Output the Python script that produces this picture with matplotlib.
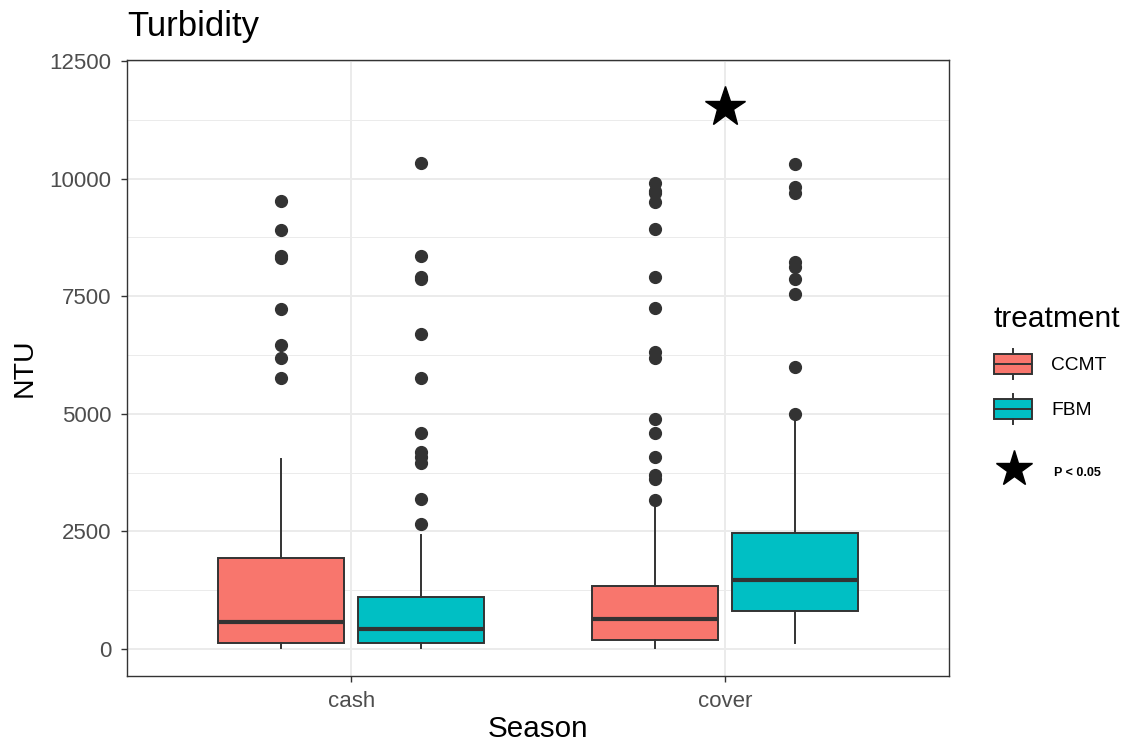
import matplotlib
matplotlib.use("Agg")
import matplotlib.pyplot as plt
from matplotlib.legend_handler import HandlerBase
from matplotlib.patches import Rectangle, Patch
from matplotlib.lines import Line2D
from matplotlib.ticker import MultipleLocator

plt.rcParams['font.family'] = ['Liberation Sans', 'DejaVu Sans']

# dane (kolejność: cash-CCMT, cash-FBM, cover-CCMT, cover-FBM)
seasons = ["cash", "cover"]
treatments = ["CCMT", "FBM"]
colors = ["#F8766D", "#00BFC4"]

whislo = [30, 30, 30, 134]
q1 = [134, 134, 191, 808]
med = [574, 432, 645, 1467]
q3 = [1928, 1112, 1346, 2460]
whishi = [4033, 2424, 3012, 4940]
outliers = [
    [9531, 8900, 8355, 8306, 7235, 6456, 6180, 5761],
    [10338, 8355, 7915, 7859, 6697, 5768, 4585, 4195, 4075, 3947, 3189, 2657],
    [9913, 9743, 9688, 9509, 8935, 7908, 7256, 6307, 6180, 4883, 4598, 4088,
     3699, 3608, 3168],
    [10317, 9815, 9688, 8234, 8128, 7859, 7541, 6002, 4989],
]

# gwiazdka istotności (P < 0.05)
star_season = "cover"
star_y = 11523
star_label = "P < 0.05"

EDGE = "#333333"
LW = 1.4


class BoxKeyHandler(HandlerBase):
    """Rysuje klucz legendy w stylu ggplot (pudełko z medianą i wąsami)."""
    def create_artists(self, legend, orig_handle, xdescent, ydescent,
                       width, height, fontsize, trans):
        x0 = -xdescent
        y0 = -ydescent
        bh = height * 0.68
        by = y0 + (height - bh) / 2
        rect = Rectangle((x0, by), width, bh, facecolor=orig_handle.get_facecolor(),
                         edgecolor=EDGE, lw=LW, transform=trans)
        mid = Line2D([x0, x0 + width], [y0 + height / 2] * 2, color=EDGE, lw=LW,
                     transform=trans)
        cx = x0 + width / 2
        top = Line2D([cx, cx], [by + bh, y0 + height], color=EDGE, lw=LW, transform=trans)
        bot = Line2D([cx, cx], [y0, by], color=EDGE, lw=LW, transform=trans)
        return [rect, mid, top, bot]


fig = plt.figure(figsize=(11.26, 7.46), dpi=100)
ax = fig.add_axes([127 / 1126, 1 - 675.7 / 746, (949 - 127) / 1126, (675.7 - 59.5) / 746])

dodge = 0.1875
width = 0.3375
stats = []
positions = []
box_colors = []
i = 0
for si, season in enumerate(seasons):
    for ti, tr in enumerate(treatments):
        stats.append(dict(whislo=whislo[i], q1=q1[i], med=med[i], q3=q3[i],
                          whishi=whishi[i], fliers=outliers[i]))
        positions.append(si + 1 + (-dodge if ti == 0 else dodge))
        box_colors.append(colors[ti])
        i += 1

bp = ax.bxp(stats, positions=positions, widths=width, patch_artist=True,
            showcaps=False, manage_ticks=False,
            boxprops=dict(edgecolor=EDGE, linewidth=LW),
            medianprops=dict(color=EDGE, linewidth=3.0, solid_capstyle='butt'),
            whiskerprops=dict(color=EDGE, linewidth=LW),
            flierprops=dict(marker='o', markersize=8.5, markerfacecolor=EDGE,
                            markeredgecolor=EDGE, linestyle='none'))
for patch, c in zip(bp['boxes'], box_colors):
    patch.set_facecolor(c)

ax.plot(seasons.index(star_season) + 1, star_y, marker='*', markersize=30,
        color='black', linestyle='none', zorder=5)

ax.set_xlim(0.4, 2.6)
ax.set_ylim(-567, 12532)
ax.set_xticks([1, 2])
ax.set_xticklabels(seasons)
ax.yaxis.set_major_locator(MultipleLocator(2500))
ax.yaxis.set_minor_locator(MultipleLocator(1250))
ax.set_axisbelow(True)
ax.grid(True, which='major', color='#EBEBEB', linewidth=1.4)
ax.grid(True, which='minor', axis='y', color='#EBEBEB', linewidth=0.7)
ax.tick_params(which='minor', length=0)
ax.tick_params(which='major', length=4, color=EDGE, width=1.0,
               labelsize=16, labelcolor='#4D4D4D')
ax.tick_params(axis='y', pad=7)
ax.tick_params(axis='x', pad=7)
for sp in ax.spines.values():
    sp.set_color(EDGE)
    sp.set_linewidth(1.0)

ax.set_xlabel("Season", fontsize=21.3, labelpad=2)
ax.set_ylabel("NTU", fontsize=20.5, labelpad=9)
ax.set_title("Turbidity", loc='left', fontsize=25, pad=17)

# legenda zabiegów
handles = [Patch(facecolor=colors[0]), Patch(facecolor=colors[1])]
leg = fig.legend(handles, treatments, title="treatment", loc='upper left',
                 bbox_to_anchor=(986 / 1126, 1 - 297 / 746), frameon=False,
                 fontsize=13.8, title_fontsize=21.5, alignment='left',
                 handlelength=2.0, handleheight=2.0, labelspacing=0.8,
                 handletextpad=1.0, borderaxespad=0.0, borderpad=0.4,
                 handler_map={Patch: BoxKeyHandler()})
leg._legend_box.sep = 12

# osobna legenda dla gwiazdki istotności
star_handle = Line2D([], [], marker='*', markersize=27, color='black', linestyle='none')
leg2 = fig.legend([star_handle], [star_label], loc='upper left',
                  bbox_to_anchor=(990 / 1126, 1 - 457 / 746), frameon=False,
                  handlelength=3.0, handleheight=2.0, handletextpad=1.7,
                  borderaxespad=0.0, prop=dict(weight='bold', size=9))

fig.savefig("out.png", dpi=100)
